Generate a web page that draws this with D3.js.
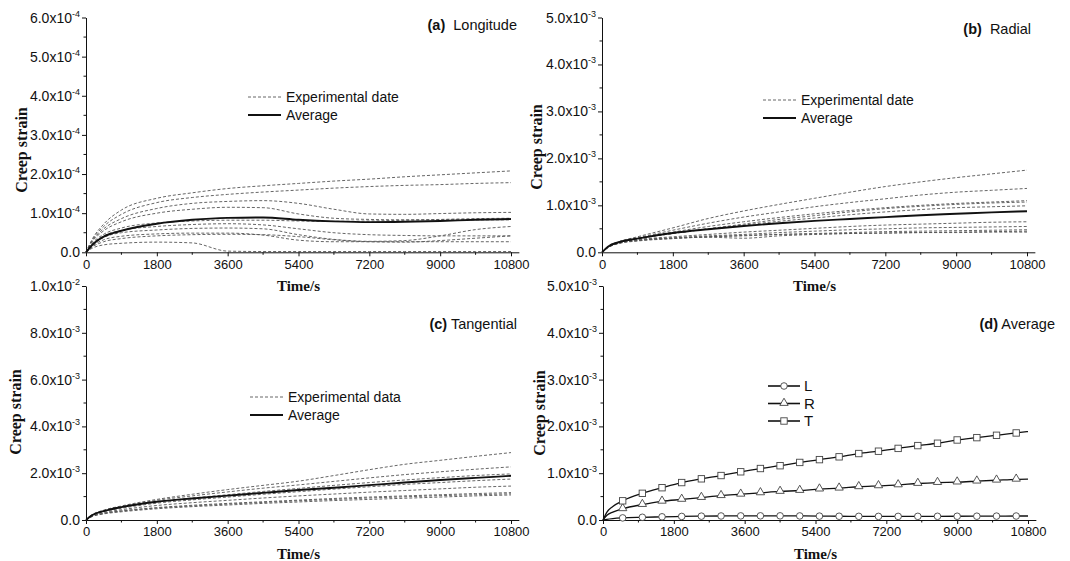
<!DOCTYPE html>
<html>
<head>
<meta charset="utf-8">
<script src="https://cdn.jsdelivr.net/npm/d3@7"></script>
<style>
  body { margin: 0; background: #fff; }
  text { fill: #111; }
  .axis path, .axis line { stroke: #111; stroke-width: 1; }
</style>
</head>
<body>
<svg id="chart" width="1070" height="561"></svg>
<script>
// time axis
var timeTicks = [0, 1800, 3600, 5400, 7200, 9000, 10800];
var minorTimeTicks = [900, 2700, 4500, 6300, 8100, 9900];

// sampled times for the experimental curves (s)
var expTimes = [0, 150, 450, 900, 1800, 2700, 3600, 4500, 5400, 6300, 7200, 8100, 9000, 9900, 10800];

// (a) longitude, values x1e-4
var longitudeExp = [
  [0, 0.32, 0.72, 1.08, 1.38, 1.52, 1.63, 1.70, 1.76, 1.82, 1.87, 1.93, 1.98, 2.03, 2.08],
  [0, 0.30, 0.66, 0.97, 1.27, 1.40, 1.48, 1.54, 1.59, 1.64, 1.68, 1.71, 1.73, 1.76, 1.78],
  [0, 0.28, 0.60, 0.86, 1.12, 1.25, 1.30, 1.32, 1.25, 1.10, 0.98, 0.97, 0.99, 1.01, 1.02],
  [0, 0.26, 0.55, 0.78, 1.00, 1.10, 1.15, 1.14, 0.98, 0.87, 0.84, 0.83, 0.83, 0.83, 0.83],
  [0, 0.22, 0.46, 0.62, 0.75, 0.80, 0.82, 0.82, 0.80, 0.79, 0.80, 0.82, 0.84, 0.86, 0.87],
  [0, 0.20, 0.42, 0.56, 0.66, 0.71, 0.73, 0.70, 0.60, 0.50, 0.45, 0.43, 0.42, 0.42, 0.42],
  [0, 0.18, 0.38, 0.50, 0.57, 0.61, 0.62, 0.60, 0.45, 0.33, 0.28, 0.30, 0.42, 0.58, 0.66],
  [0, 0.15, 0.32, 0.41, 0.47, 0.49, 0.49, 0.44, 0.31, 0.27, 0.27, 0.27, 0.27, 0.27, 0.27],
  [0, 0.13, 0.27, 0.35, 0.42, 0.45, 0.46, 0.45, 0.40, 0.32, 0.27, 0.26, 0.30, 0.36, 0.42],
  [0, 0.10, 0.19, 0.23, 0.26, 0.24, 0.03, 0.02, 0.02, 0.02, 0.02, 0.02, 0.02, 0.02, 0.02]
];
var longitudeAvg = [0, 0.18, 0.40, 0.55, 0.73, 0.83, 0.88, 0.89, 0.83, 0.79, 0.77, 0.78, 0.80, 0.83, 0.85];

// (b) radial, values x1e-3
var radialExp = [
  [0, 0.12, 0.23, 0.33, 0.52, 0.72, 0.88, 1.02, 1.15, 1.28, 1.40, 1.50, 1.59, 1.67, 1.75],
  [0, 0.12, 0.23, 0.31, 0.47, 0.62, 0.75, 0.86, 0.97, 1.06, 1.14, 1.22, 1.28, 1.32, 1.36],
  [0, 0.12, 0.22, 0.30, 0.43, 0.55, 0.65, 0.74, 0.82, 0.89, 0.95, 1.00, 1.04, 1.07, 1.10],
  [0, 0.11, 0.22, 0.29, 0.40, 0.50, 0.60, 0.70, 0.78, 0.86, 0.93, 0.98, 1.02, 1.05, 1.07],
  [0, 0.11, 0.21, 0.29, 0.40, 0.50, 0.58, 0.66, 0.73, 0.80, 0.86, 0.91, 0.95, 0.97, 0.99],
  [0, 0.11, 0.21, 0.27, 0.33, 0.38, 0.43, 0.47, 0.51, 0.55, 0.58, 0.60, 0.62, 0.64, 0.65],
  [0, 0.11, 0.20, 0.26, 0.31, 0.35, 0.38, 0.42, 0.45, 0.48, 0.50, 0.52, 0.53, 0.54, 0.55],
  [0, 0.10, 0.20, 0.25, 0.30, 0.33, 0.35, 0.38, 0.40, 0.42, 0.44, 0.45, 0.46, 0.47, 0.48],
  [0, 0.10, 0.20, 0.25, 0.30, 0.32, 0.30, 0.35, 0.38, 0.40, 0.41, 0.42, 0.43, 0.44, 0.45],
  [0, 0.10, 0.19, 0.24, 0.29, 0.33, 0.36, 0.38, 0.39, 0.40, 0.41, 0.42, 0.42, 0.43, 0.43]
];
var radialAvg = [0, 0.12, 0.22, 0.29, 0.41, 0.49, 0.56, 0.62, 0.67, 0.71, 0.75, 0.79, 0.82, 0.85, 0.875];

// (c) tangential, values x1e-3
var tangentialExp = [
  [0, 0.22, 0.42, 0.60, 0.88, 1.10, 1.30, 1.48, 1.66, 1.90, 2.15, 2.38, 2.55, 2.72, 2.88],
  [0, 0.21, 0.40, 0.57, 0.84, 1.03, 1.20, 1.36, 1.50, 1.65, 1.80, 1.94, 2.06, 2.17, 2.27],
  [0, 0.20, 0.38, 0.54, 0.78, 0.94, 1.08, 1.22, 1.35, 1.48, 1.60, 1.71, 1.81, 1.90, 1.97],
  [0, 0.19, 0.36, 0.50, 0.72, 0.86, 0.98, 1.10, 1.21, 1.32, 1.42, 1.52, 1.60, 1.68, 1.75],
  [0, 0.17, 0.32, 0.44, 0.62, 0.74, 0.84, 0.94, 1.03, 1.11, 1.19, 1.26, 1.33, 1.40, 1.45],
  [0, 0.16, 0.29, 0.39, 0.53, 0.63, 0.71, 0.78, 0.85, 0.92, 0.98, 1.03, 1.08, 1.13, 1.17],
  [0, 0.15, 0.28, 0.38, 0.51, 0.60, 0.68, 0.75, 0.82, 0.88, 0.94, 0.99, 1.04, 1.08, 1.12],
  [0, 0.14, 0.26, 0.35, 0.48, 0.57, 0.64, 0.71, 0.77, 0.83, 0.88, 0.93, 0.98, 1.03, 1.07]
];
var tangentialAvg = [0, 0.20, 0.38, 0.55, 0.78, 0.92, 1.04, 1.16, 1.28, 1.38, 1.49, 1.60, 1.71, 1.80, 1.89];

// (d) averages, values x1e-3
var avgTimes = [0, 100, 250, 500, 1000, 1500, 2000, 2500, 3000, 3500, 4000, 4500, 5000, 5500,
  6000, 6500, 7000, 7500, 8000, 8500, 9000, 9500, 10000, 10500, 10800];
var avgL = [0, 0.015, 0.03, 0.045, 0.058, 0.068, 0.076, 0.082, 0.086, 0.088, 0.089, 0.089, 0.087, 0.083,
  0.080, 0.078, 0.077, 0.077, 0.078, 0.079, 0.080, 0.081, 0.083, 0.085, 0.085];
var avgR = [0, 0.10, 0.17, 0.24, 0.33, 0.40, 0.44, 0.48, 0.52, 0.55, 0.58, 0.61, 0.63, 0.66,
  0.68, 0.71, 0.73, 0.75, 0.78, 0.80, 0.81, 0.83, 0.85, 0.87, 0.875];
var avgT = [0, 0.17, 0.29, 0.41, 0.57, 0.69, 0.80, 0.88, 0.95, 1.03, 1.10, 1.16, 1.23, 1.29,
  1.35, 1.42, 1.47, 1.53, 1.59, 1.64, 1.71, 1.76, 1.81, 1.86, 1.89];

var SANS = "Arimo, 'Liberation Sans', Arial, sans-serif",
    SERIF = "'Liberation Serif', 'Times New Roman', serif";

var svg = d3.select("#chart");
var plotW = 425 * 11000 / 10800;  // axis runs a bit past 10800

var panels = [
  { left: 86, top: 17.5, bottom: 252.3, ymax: 6e-4, unit: 1e-4, step: 1e-4,
    tag: "(a)", name: "  Longitude", titleX: 517, titleY: 30,
    yTitle: [22, 150], legend: [248, 97, "Experimental date"],
    exp: longitudeExp, avg: longitudeAvg },
  { left: 602, top: 17.5, bottom: 252.3, ymax: 5e-3, unit: 1e-3, step: 1e-3,
    tag: "(b)", name: "  Radial", titleX: 1031, titleY: 34,
    yTitle: [537, 147], legend: [763, 100, "Experimental date"],
    exp: radialExp, avg: radialAvg },
  { left: 86, top: 286, bottom: 520, ymax: 1e-2, unit: 1e-3, step: 2e-3,
    tag: "(c)", name: " Tangential", titleX: 517, titleY: 329,
    yTitle: [16, 412], legend: [250, 397, "Experimental data"],
    exp: tangentialExp, avg: tangentialAvg },
  { left: 603, top: 286, bottom: 520, ymax: 5e-3, unit: 1e-3, step: 1e-3,
    tag: "(d)", name: " Average", titleX: 1055, titleY: 329,
    yTitle: [540, 413], series: true }
];

function superLabel(sel, v) {
  if (v === 0) { sel.text("0.0"); return; }
  var e = Math.floor(Math.log10(v) + 1e-9),
      m = (v / Math.pow(10, e)).toFixed(1);
  sel.append("tspan").text(m + "x10");
  sel.append("tspan").attr("dy", -6).style("font-size", "9px").text(String(e));
}

function drawMarker(g, shape, cx, cy) {
  if (shape === "circle") {
    g.append("circle").attr("cx", cx).attr("cy", cy).attr("r", 3.3)
      .attr("fill", "#fff").attr("stroke", "#444").attr("stroke-width", 0.9);
  } else if (shape === "triangle") {
    g.append("path").attr("d", d3.symbol().type(d3.symbolTriangle).size(30)())
      .attr("transform", "translate(" + cx + "," + (cy - 0.5) + ")")
      .attr("fill", "#fff").attr("stroke", "#444").attr("stroke-width", 0.9);
  } else {
    g.append("rect").attr("x", cx - 3.2).attr("y", cy - 3.2).attr("width", 6.4).attr("height", 6.4)
      .attr("fill", "#fff").attr("stroke", "#444").attr("stroke-width", 0.9);
  }
}

panels.forEach(function (p) {
  var g = svg.append("g");
  var x = d3.scaleLinear().domain([0, 11000]).range([p.left, p.left + plotW]);
  var y = d3.scaleLinear().domain([0, p.ymax]).range([p.bottom, p.top]);

  // x axis
  var xa = g.append("g").attr("class", "axis")
    .attr("transform", "translate(0," + p.bottom + ")")
    .call(d3.axisBottom(x).tickValues(timeTicks).tickFormat(d3.format("d"))
      .tickSize(4).tickSizeOuter(0).tickPadding(3));
  xa.selectAll("text").style("font-size", "13px").style("font-family", SANS).attr("fill", "#111");
  xa.selectAll(".minor").data(minorTimeTicks).enter().append("line")
    .attr("x1", function (d) { return x(d); }).attr("x2", function (d) { return x(d); })
    .attr("y1", 0).attr("y2", 2.5).attr("stroke", "#111");

  // y axis
  var n = Math.round(p.ymax / p.step);
  var yTicks = d3.range(n + 1).map(function (i) { return i * p.step; });
  var yMinor = d3.range(n).map(function (i) { return (i + 0.5) * p.step; });
  var ya = g.append("g").attr("class", "axis")
    .attr("transform", "translate(" + p.left + ",0)")
    .call(d3.axisLeft(y).tickValues(yTicks).tickSize(4).tickSizeOuter(0).tickFormat(""));
  ya.selectAll(".minor").data(yMinor).enter().append("line")
    .attr("y1", function (d) { return y(d); }).attr("y2", function (d) { return y(d); })
    .attr("x1", 0).attr("x2", -2.5).attr("stroke", "#111");
  yTicks.forEach(function (v) {
    var t = g.append("text").attr("x", p.left - 6).attr("y", y(v) + 5)
      .attr("text-anchor", "end").style("font-family", SANS).style("font-size", "14px");
    superLabel(t, v);
  });

  // axis titles
  g.append("text").attr("x", x(5400)).attr("y", p.bottom + 39)
    .attr("text-anchor", "middle").style("font-family", SERIF)
    .style("font-weight", "bold").style("font-size", "15px").text("Time/s");
  g.append("text").attr("transform", "translate(" + (p.yTitle[0] + 5) + "," + p.yTitle[1] + ") rotate(-90)")
    .attr("text-anchor", "middle").style("font-family", SERIF)
    .style("font-weight", "bold").style("font-size", "16px").text("Creep strain");

  // panel title
  var tt = g.append("text").attr("x", p.titleX).attr("y", p.titleY)
    .attr("text-anchor", "end").style("font-family", SANS).style("font-size", "14.5px")
    .style("white-space", "pre");
  tt.append("tspan").style("font-weight", "bold").text(p.tag);
  tt.append("tspan").text(p.name);

  var line = d3.line().curve(d3.curveMonotoneX)
    .x(function (d) { return x(d[0]); })
    .y(function (d) { return y(d[1] * p.unit); });

  if (!p.series) {
    p.exp.forEach(function (s) {
      g.append("path").datum(expTimes.map(function (t, i) { return [t, s[i]]; }))
        .attr("d", line).attr("fill", "none").attr("stroke", "#555")
        .attr("stroke-width", 0.9).attr("stroke-dasharray", "3,2");
    });
    g.append("path").datum(expTimes.map(function (t, i) { return [t, p.avg[i]]; }))
      .attr("d", line).attr("fill", "none").attr("stroke", "#111").attr("stroke-width", 1.9);

    // legend
    var lx = p.legend[0], ly = p.legend[1];
    g.append("line").attr("x1", lx).attr("x2", lx + 33).attr("y1", ly).attr("y2", ly)
      .attr("stroke", "#555").attr("stroke-width", 0.9).attr("stroke-dasharray", "3,2");
    g.append("text").attr("x", lx + 38).attr("y", ly + 5).style("font-family", SANS)
      .style("font-size", "14px").text(p.legend[2]);
    g.append("line").attr("x1", lx).attr("x2", lx + 33).attr("y1", ly + 18).attr("y2", ly + 18)
      .attr("stroke", "#111").attr("stroke-width", 1.9);
    g.append("text").attr("x", lx + 38).attr("y", ly + 23).style("font-family", SANS)
      .style("font-size", "14px").text("Average");
  } else {
    var series = [
      { name: "L", values: avgL, shape: "circle" },
      { name: "R", values: avgR, shape: "triangle" },
      { name: "T", values: avgT, shape: "square" }
    ];
    series.forEach(function (s, k) {
      var pts = avgTimes.map(function (t, i) { return [t, s.values[i]]; });
      g.append("path").datum(pts).attr("d", line).attr("fill", "none")
        .attr("stroke", "#111").attr("stroke-width", 1.3);
      pts.filter(function (d) { return d[0] % 500 === 0 && d[0] > 0 && d[0] < 10800; })
        .forEach(function (d) { drawMarker(g, s.shape, x(d[0]), y(d[1] * p.unit)); });
      var ly = 386 + k * 17.5;
      g.append("line").attr("x1", 768).attr("x2", 800).attr("y1", ly).attr("y2", ly)
        .attr("stroke", "#111").attr("stroke-width", 1.6);
      drawMarker(g, s.shape, 784, ly);
      g.append("text").attr("x", 804).attr("y", ly + 5).style("font-family", SANS)
        .style("font-size", "15px").text(s.name);
    });
  }
});
</script>
</body>
</html>
